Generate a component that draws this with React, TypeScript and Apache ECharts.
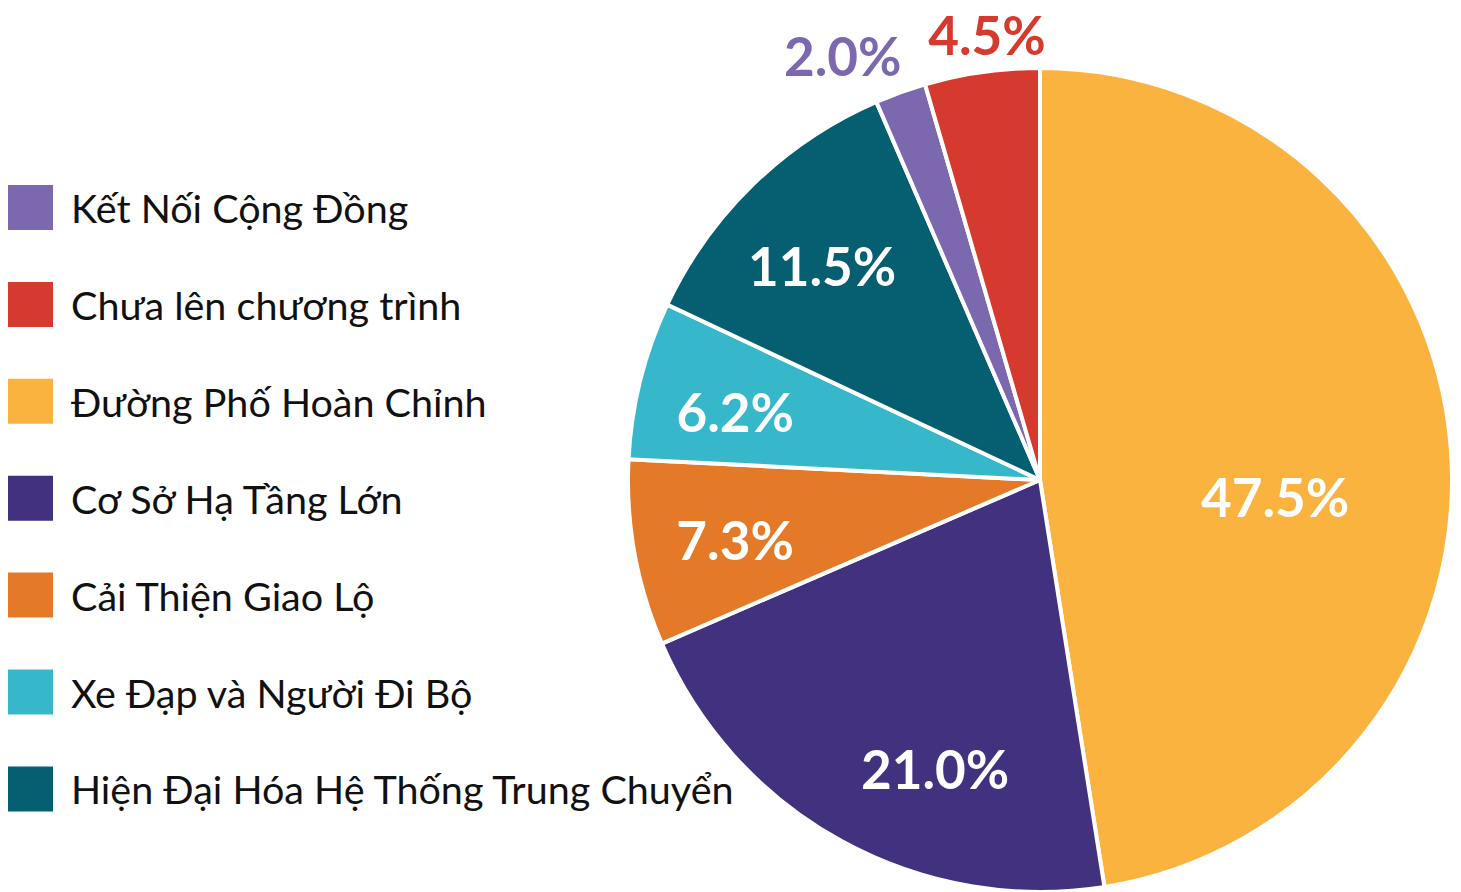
import React, { useEffect, useRef } from "react";
import * as echarts from "echarts";

const categories = [
  "Đường Phố Hoàn Chỉnh",
  "Cơ Sở Hạ Tầng Lớn",
  "Cải Thiện Giao Lộ",
  "Xe Đạp và Người Đi Bộ",
  "Hiện Đại Hóa Hệ Thống Trung Chuyển",
  "Kết Nối Cộng Đồng",
  "Chưa lên chương trình",
];
const values = [47.5, 21.0, 7.3, 6.2, 11.5, 2.0, 4.5];
const colors = ["#FBB33F", "#41317E", "#E47A28", "#36B8CA", "#065E71", "#7B68AF", "#D6392E"];
const legendOrder = [
  "Kết Nối Cộng Đồng",
  "Chưa lên chương trình",
  "Đường Phố Hoàn Chỉnh",
  "Cơ Sở Hạ Tầng Lớn",
  "Cải Thiện Giao Lộ",
  "Xe Đạp và Người Đi Bộ",
  "Hiện Đại Hóa Hệ Thống Trung Chuyển",
];
// label placement: fraction of radius and angular nudge (degrees)
const labelRadiusRatio = [0.572, 0.744, 0.754, 0.758, 0.743, 1.137, 1.088];
const labelAngleNudge = [8.6, -8.8, -0.8, -1.4, -1.3, -5.1, 1.3];
const outsideLabel = [false, false, false, false, false, true, true];

const CX = 1040;
const CY = 480;
const R = 412;

export default function App() {
  const ref = useRef<HTMLDivElement>(null);
  useEffect(() => {
    if (!ref.current) return;
    const chart = echarts.init(ref.current, undefined, { renderer: "svg" });
    const total = values.reduce((a, b) => a + b, 0);
    const starts: number[] = [];
    let acc = 0;
    values.forEach((v) => {
      starts.push(acc);
      acc += v;
    });
    chart.setOption({
      animation: false,
      backgroundColor: "#ffffff",
      legend: {
        data: legendOrder,
        orient: "vertical",
        left: 6,
        top: 183,
        padding: 0,
        itemWidth: 47,
        itemHeight: 47,
        itemGap: 47.9,
        icon: "rect",
        selectedMode: false,
        textStyle: {
          fontFamily: "Lato",
          fontSize: 39.5,
          color: "#111111",
          padding: [0, 0, 0, 12],
        },
      },
      series: [
        {
          type: "pie",
          center: [CX, CY],
          radius: R,
          startAngle: 90,
          clockwise: true,
          avoidLabelOverlap: false,
          itemStyle: { borderColor: "#ffffff", borderWidth: 4 },
          label: {
            show: true,
            position: "inside",
            formatter: (p: any) => p.value.toFixed(1) + "%",
            fontFamily: "Lato",
            fontWeight: "bold",
            fontSize: 53,
            color: "#ffffff",
          },
          labelLine: { show: false },
          emphasis: { disabled: true },
          labelLayout: (params: any) => {
            const i = params.dataIndex;
            const mid = ((starts[i] + values[i] / 2) / total) * 360 + labelAngleNudge[i];
            const a = (mid * Math.PI) / 180;
            const r = R * labelRadiusRatio[i];
            return {
              x: CX + r * Math.sin(a),
              y: CY - r * Math.cos(a),
              align: "center",
              verticalAlign: "middle",
            };
          },
          data: categories.map((name, i) => ({
            name,
            value: values[i],
            itemStyle: { color: colors[i] },
            label: outsideLabel[i] ? { color: colors[i] } : undefined,
          })),
        },
      ],
    });
    return () => chart.dispose();
  }, []);
  return (
    <div
      ref={ref}
      style={{ position: "absolute", left: 0, top: 0, width: 1461, height: 892 }}
    />
  );
}
